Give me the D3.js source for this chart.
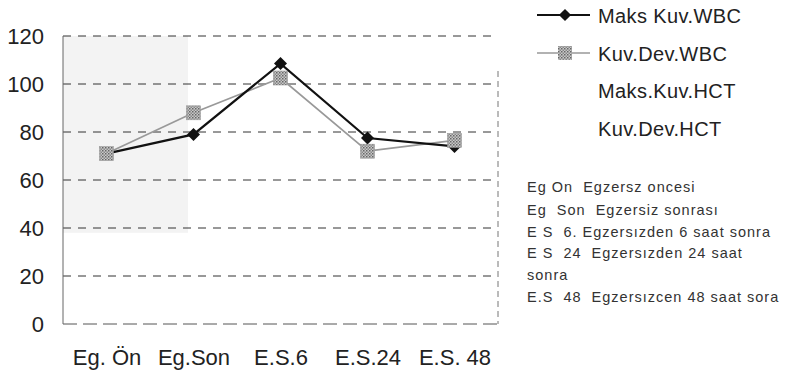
<!DOCTYPE html>
<html><head><meta charset="utf-8">
<script src="https://cdn.jsdelivr.net/npm/d3@7"></script>
<style>body{margin:0;background:#fff}svg{display:block}text{white-space:pre}</style>
</head><body>
<svg id="c" width="787" height="372"></svg>
<script>
const categories = ["Eg. Ön", "Eg.Son", "E.S.6", "E.S.24", "E.S. 48"];
const maksKuvWBC = [71, 79, 108.5, 77.5, 74];
const kuvDevWBC = [71, 88, 102.5, 72, 76.5];
const yTicks = [0, 20, 40, 60, 80, 100, 120];
const legendLabels = ["Maks Kuv.WBC", "Kuv.Dev.WBC", "Maks.Kuv.HCT", "Kuv.Dev.HCT"];
const notes = ["Eg On  Egzersz oncesi", "Eg  Son  Egzersiz sonrası", "E S  6. Egzersızden 6 saat sonra", "E S  24  Egzersızden 24 saat", "sonra", "E.S  48  Egzersızcen 48 saat sora"];

const svg = d3.select("#c");
const L = 63, R = 498, T = 36, B = 324;
const x = d3.scalePoint().domain(categories).range([L, R]).padding(0.5);
const y = d3.scaleLinear().domain([0, 120]).range([B, T]);
const font = "Liberation Sans, Arial, sans-serif";

// faded gray scan area
svg.append("rect").attr("x", L).attr("y", y(120)).attr("width", 125).attr("height", y(38) - y(120))
  .attr("fill", "#f3f3f3");

// gridlines
svg.append("g").selectAll("line").data(yTicks.filter(d => d > 0)).join("line")
  .attr("x1", L).attr("x2", R).attr("y1", d => y(d)).attr("y2", d => y(d))
  .attr("stroke", "#333").attr("stroke-width", 1).attr("stroke-dasharray", "8,7");
// frame
svg.append("line").attr("x1", L).attr("x2", R).attr("y1", B).attr("y2", B)
  .attr("stroke", "#555").attr("stroke-dasharray", "14,6");
svg.append("line").attr("x1", R).attr("x2", R).attr("y1", T + 35).attr("y2", B)
  .attr("stroke", "#777").attr("stroke-dasharray", "6,4");
svg.append("line").attr("x1", L).attr("x2", L).attr("y1", T).attr("y2", B)
  .attr("stroke", "#666").attr("stroke-width", 1);

// y axis labels
const yAxis = d3.axisLeft(y).tickValues(yTicks).tickSize(0).tickPadding(19);
const gy = svg.append("g").attr("transform", `translate(${L},0)`).call(yAxis);
gy.select(".domain").remove();
gy.selectAll("text").attr("font-family", font).attr("font-size", 22).attr("fill", "#222").attr("dy", "0.36em");

// x axis labels
const xAxis = d3.axisBottom(x).tickSize(0);
const gx = svg.append("g").attr("transform", `translate(0,${B})`).call(xAxis);
gx.select(".domain").remove();
gx.selectAll("text").attr("font-family", font).attr("font-size", 22).attr("fill", "#222")
  .attr("y", 41).attr("dy", null);

const line = d3.line().x((d, i) => x(categories[i])).y(d => y(d));

// Kuv.Dev.WBC
svg.append("path").datum(kuvDevWBC).attr("d", line).attr("fill", "none")
  .attr("stroke", "#999").attr("stroke-width", 1.7);
// Maks Kuv.WBC
svg.append("path").datum(maksKuvWBC).attr("d", line).attr("fill", "none")
  .attr("stroke", "#111").attr("stroke-width", 2.2);

svg.append("g").selectAll("path").data(maksKuvWBC).join("path")
  .attr("d", d3.symbol().type(d3.symbolSquare).size(85))
  .attr("transform", (d, i) => `translate(${x(categories[i])},${y(d)}) rotate(45)`)
  .attr("fill", "#111");

// textured square markers
const defs = svg.append("defs");
const pat = defs.append("pattern").attr("id", "tex").attr("width", 3).attr("height", 3).attr("patternUnits", "userSpaceOnUse");
pat.append("rect").attr("width", 3).attr("height", 3).attr("fill", "#c8c8c8");
pat.append("rect").attr("width", 1.5).attr("height", 1.5).attr("fill", "#666");
pat.append("rect").attr("x", 1.5).attr("y", 1.5).attr("width", 1.5).attr("height", 1.5).attr("fill", "#888");
svg.append("g").selectAll("rect").data(kuvDevWBC).join("rect")
  .attr("x", (d, i) => x(categories[i]) - 7).attr("y", d => y(d) - 7)
  .attr("width", 14).attr("height", 14).attr("fill", "url(#tex)").attr("stroke", "#999").attr("stroke-width", 0.6);

// legend
const lg = svg.append("g");
const lyBase = [22.5, 61, 98, 136];
legendLabels.forEach((t, i) => {
  lg.append("text").attr("x", 598).attr("y", lyBase[i]).text(t)
    .attr("font-family", font).attr("font-size", 20).attr("letter-spacing", 0.4).attr("fill", "#222");
});
lg.append("line").attr("x1", 537).attr("x2", 590).attr("y1", 15).attr("y2", 15).attr("stroke", "#111").attr("stroke-width", 2);
lg.append("path").attr("d", d3.symbol().type(d3.symbolSquare).size(75)).attr("transform", `translate(565,15) rotate(45)`).attr("fill", "#111");
lg.append("line").attr("x1", 537).attr("x2", 590).attr("y1", 53).attr("y2", 53).attr("stroke", "#999").attr("stroke-width", 1.3);
lg.append("rect").attr("x", 558).attr("y", 46).attr("width", 14).attr("height", 14).attr("fill", "url(#tex)");

// notes
const nyBase = [192, 215, 237, 258, 280, 302];
notes.forEach((t, i) => {
  svg.append("text").attr("x", 527).attr("y", nyBase[i]).text(t)
    .attr("font-family", font).attr("font-size", 14.5).attr("letter-spacing", 1).attr("fill", "#333");
});
</script>
</body></html>
